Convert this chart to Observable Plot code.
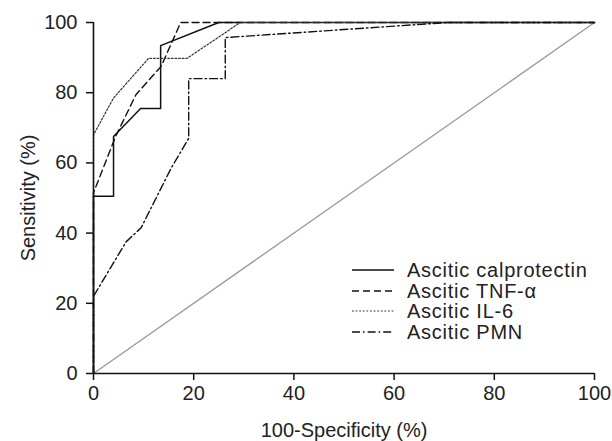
<!DOCTYPE html>
<html>
<head>
<meta charset="utf-8">
<script src="https://cdn.jsdelivr.net/npm/d3@7"></script>
<script src="https://cdn.jsdelivr.net/npm/@observablehq/plot@0.6"></script>
<style>
  html, body { margin: 0; padding: 0; background: #fff; }
  #wrap { position: relative; width: 612px; height: 441px; font-family: "Liberation Sans", Arial, sans-serif; color: #222; }
  #legend { position: absolute; left: 352px; top: 260px; font-size: 20px; line-height: 20.5px; letter-spacing: 0.75px; }
  #legend .row { display: flex; align-items: center; height: 20.5px; white-space: nowrap; }
  #legend .row span { display: block; height: 20.5px; line-height: 20.5px; overflow: visible; }
  #legend svg { width: 42px; height: 8px; margin-right: 13px; flex: none; }
</style>
</head>
<body>
<div id="wrap"><div id="legend"></div></div>
<script>
// Tick labels
const xTicks = [0, 20, 40, 60, 80, 100];
const yTicks = [0, 20, 40, 60, 80, 100];

// Series names
const seriesNames = ["Ascitic calprotectin", "Ascitic TNF-\u03b1", "Ascitic IL-6", "Ascitic PMN"];

// ROC curve points (100-Specificity, Sensitivity)
const calX = [0, 0, 4, 4, 9.4, 13.4, 13.4, 25, 100];
const calY = [0, 50.5, 50.5, 67.5, 75.5, 75.5, 93.4, 100, 100];

const tnfX = [0, 0, 4.4, 8.5, 13.5, 17.4, 100];
const tnfY = [0, 51.5, 67.5, 79.5, 87.5, 100, 100];

const il6X = [0, 0, 4, 11, 18.7, 29.3, 100];
const il6Y = [0, 68, 78.5, 89.8, 89.8, 100, 100];

const pmnX = [0, 0, 6.5, 9.5, 15.5, 19, 19, 26.3, 26.3, 70.7, 100];
const pmnY = [0, 22, 37.5, 41.5, 58.5, 67, 84, 84, 95.7, 100, 100];

// Reference diagonal
const diagX = [0, 100];
const diagY = [0, 100];

const seriesXs = [calX, tnfX, il6X, pmnX];
const seriesYs = [calY, tnfY, il6Y, pmnY];
const dashes = [null, "7,4", "1.8,1.8", "8,3,1.6,3"];
const widths = [1.5, 1.4, 1.2, 1.4];
const colors = ["#111", "#111", "#333", "#111"];

const toPts = (xs, ys) => xs.map((x, i) => ({x, y: ys[i]}));

const font = "'Liberation Sans', Arial, sans-serif";

const lineMarks = seriesXs.map((xs, k) =>
  Plot.line(toPts(xs, seriesYs[k]), {
    x: "x", y: "y",
    stroke: colors[k], strokeWidth: widths[k],
    strokeDasharray: dashes[k] || undefined
  })
);

const chart = Plot.plot({
  width: 612,
  height: 441,
  marginLeft: 93,
  marginRight: 18,
  marginTop: 22,
  marginBottom: 68,
  style: {fontFamily: font, fontSize: "20px", color: "#222", background: "transparent"},
  x: {domain: [0, 100]},
  y: {domain: [0, 100]},
  marks: [
    Plot.line(toPts(diagX, diagY), {x: "x", y: "y", stroke: "#999", strokeWidth: 1.3}),
    ...lineMarks,
    Plot.ruleX([0], {stroke: "#111", strokeWidth: 1.6}),
    Plot.ruleY([0], {stroke: "#111", strokeWidth: 1.6}),
    Plot.axisX({
      ticks: xTicks, tickSize: 7, tickPadding: 5, tickFormat: d => String(d),
      fontSize: 20, stroke: "#111", strokeWidth: 1.5, label: null
    }),
    Plot.axisX({
      ticks: [], label: "100-Specificity (%)", labelAnchor: "center", labelOffset: 63, labelArrow: "none",
      fontSize: 20, style: "letter-spacing: 0.55px"
    }),
    Plot.axisY({
      ticks: yTicks, tickSize: 7, tickPadding: 9, tickFormat: d => String(d),
      fontSize: 20, stroke: "#111", strokeWidth: 1.5, label: null
    }),
    Plot.axisY({
      ticks: [], label: "Sensitivity (%)", labelAnchor: "center", labelOffset: 73, labelArrow: "none",
      fontSize: 20, style: "letter-spacing: 0.2px"
    })
  ]
});

const wrap = document.getElementById("wrap");
wrap.insertBefore(chart, wrap.firstChild);
chart.style.display = "block";

// Legend
const legend = document.getElementById("legend");
seriesNames.forEach((name, k) => {
  const row = document.createElement("div");
  row.className = "row";
  const dash = dashes[k] ? ` stroke-dasharray="${dashes[k]}"` : "";
  row.innerHTML = `<svg viewBox="0 0 42 8"><line x1="0" y1="4" x2="42" y2="4" stroke="${colors[k]}" stroke-width="${widths[k]}"${dash}/></svg><span>${name}</span>`;
  legend.appendChild(row);
});
</script>
</body>
</html>
